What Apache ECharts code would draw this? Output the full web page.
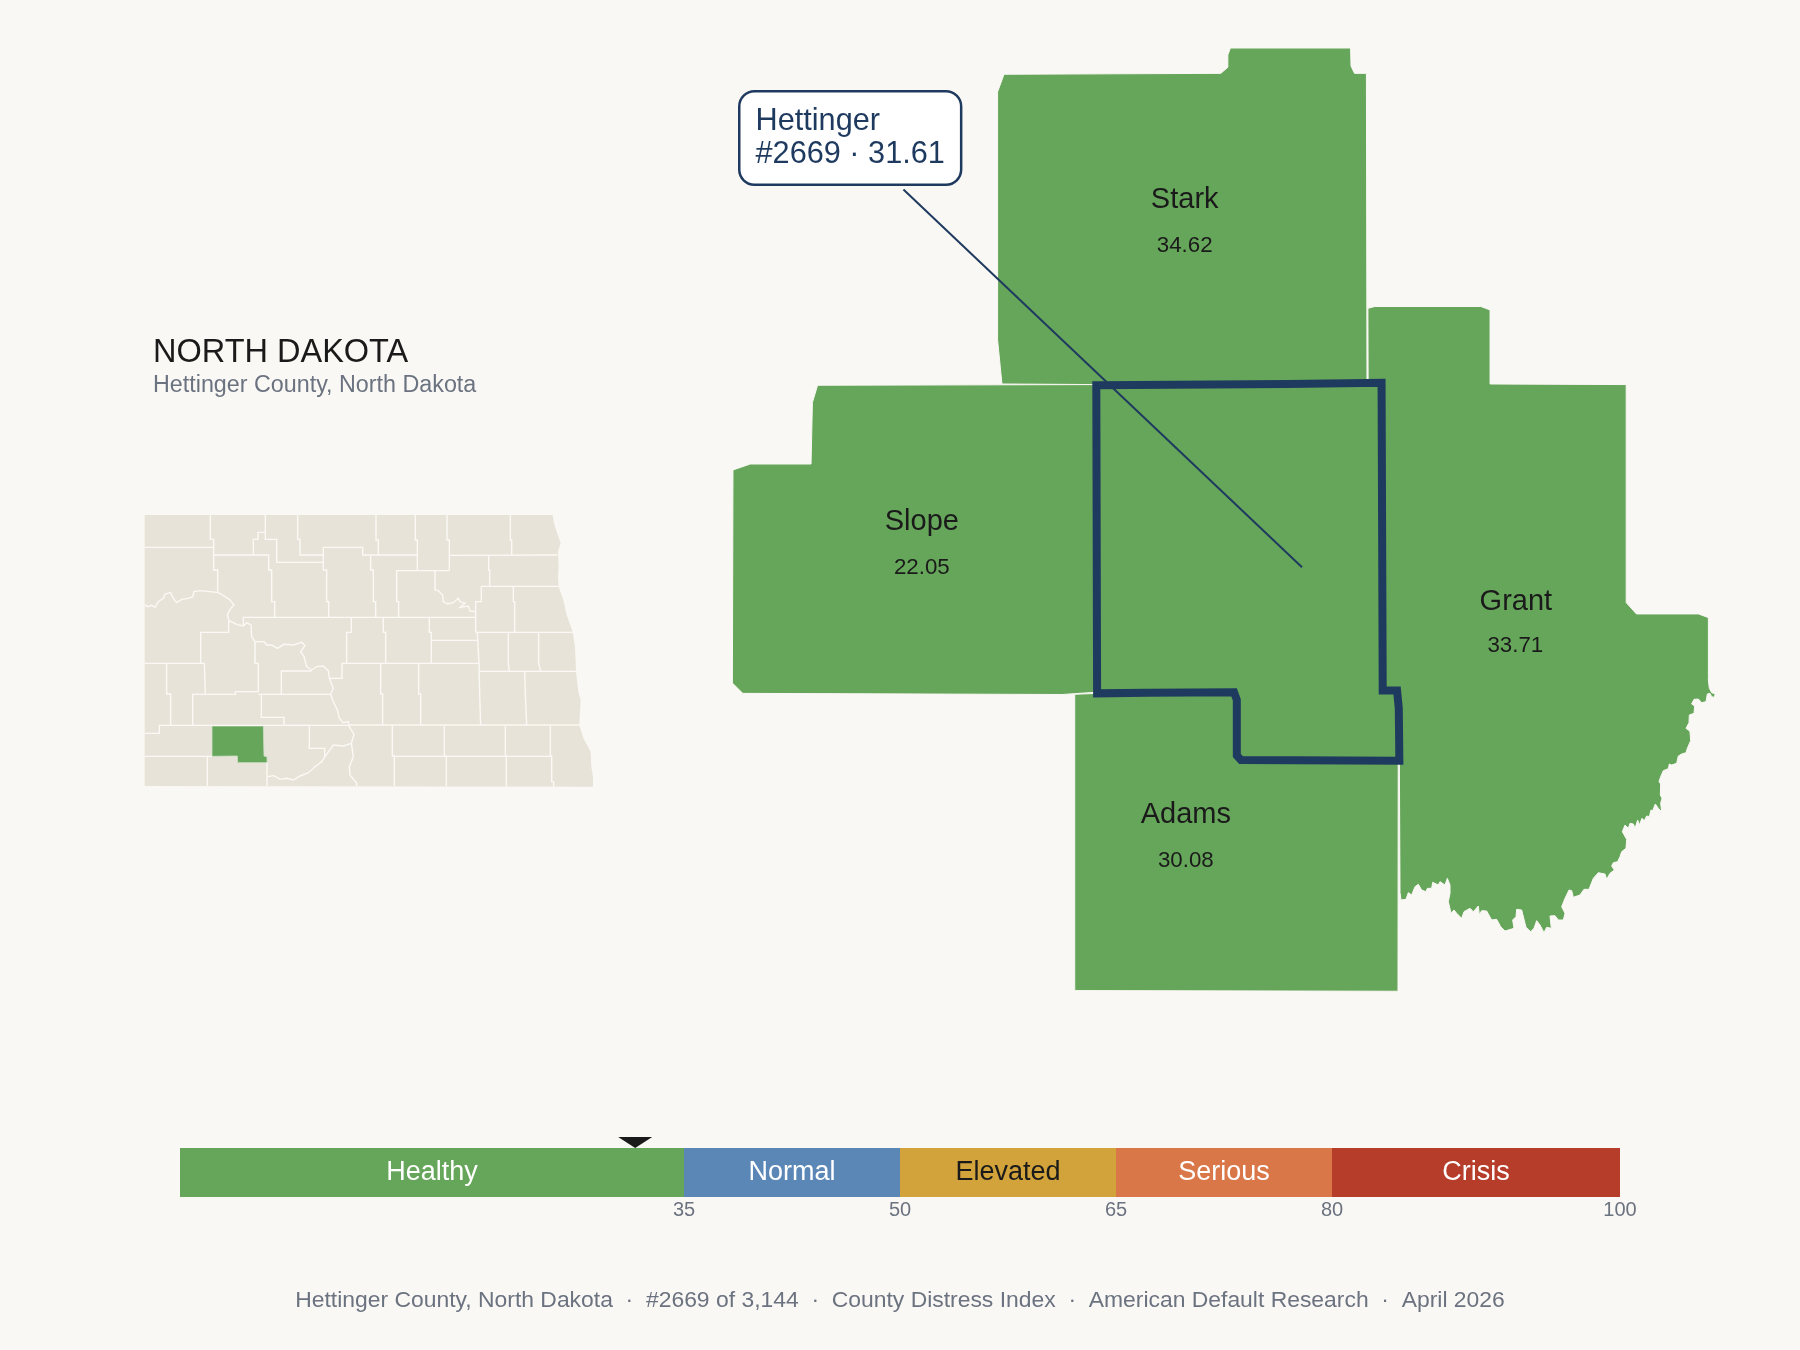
<!DOCTYPE html>
<html>
<head>
<meta charset="utf-8">
<style>html,body{margin:0;padding:0;background:#faf8f4}#c{width:1800px;height:1350px}</style>
<script src="https://cdn.jsdelivr.net/npm/echarts@6/dist/echarts.min.js"></script>
</head>
<body>
<div id="c"></div>
<script>
// ---- Score scale ----
const bandNames = ['Healthy', 'Normal', 'Elevated', 'Serious', 'Crisis'];
const bandSpans = [35, 15, 15, 15, 20];
const bandTicks = [35, 50, 65, 80, 100];
const countyScore = 31.61;

// ---- Neighbouring counties ----
const countyNames = ['Stark', 'Slope', 'Grant', 'Adams'];
const countyValues = ['34.62', '22.05', '33.71', '30.08'];
const nameAnchors = [[1032, 174], [803, 455], [1320.5, 524], [1033, 710]];
const valueAnchors = [[1032, 214], [803, 495], [1320, 563], [1033, 750]];

// ---- Callout ----
const calloutLines = ['Hettinger', '#2669 · 31.61'];
const calloutBoxAnchor = [645.5, 81];
const calloutLeader = [[787, 165], [1134.2, 494.2]];

// ---- Texts ----
const stateTitle = 'NORTH DAKOTA';
const stateSubtitle = 'Hettinger County, North Dakota';
const footerText = 'Hettinger County, North Dakota  ·  #2669 of 3,144  ·  County Distress Index  ·  American Default Research  ·  April 2026';

// ---- Main map outlines, in map units ----
const starkOutline = [[1071.8,41.8],[1176.5,41.8],[1176.9,57.5],[1179.9,63.9],[1190.3,63.9],[1190.8,334],[955,335],[872.8,334.5],[869,296],[869,80.1],[874.6,64.7],[1063.5,63.9],[1069.6,58.6],[1069.6,47.9]];
const slopeOutline = [[712.2,335.6],[955,335],[955,603],[925,605],[647,604],[638,595],[638.5,409.4],[653.6,404.2],[706.5,404.2],[707.7,350.7]];
const adamsOutline = [[936.2,604.8],[955.7,604],[1075,603],[1077.4,609.7],[1077.4,658],[1081,662],[1218,664],[1217.8,863.5],[936.2,862.9]];
const grantHead = [[1191.6,268.6],[1197.6,267],[1290,267],[1298,270],[1298,334.5],[1416.6,335],[1416.6,524.9],[1425.5,534.8],[1479.6,534.8],[1488.2,538],[1488.2,589.4]];
const grantTail = [[1219,663],[1218,617],[1217,601.6],[1204.6,601.6],[1204,334],[1191.8,333.5]];
// River bank traced at a larger scale: east reach, then south reach
const riverEastTrace = [[355,0],[358,25],[365,38],[376,42],[372,52],[365,50],[360,40],[352,42],[348,65],[335,68],[325,57],[312,58],[305,72],[314,78],[312,100],[298,105],[297,128],[288,145],[295,150],[300,155],[302,182],[292,205],[288,218],[275,222],[265,228],[260,250],[245,255],[238,252],[235,266],[220,272],[212,290],[207,305],[212,312],[211,345],[216,355],[212,370],[215,395],[205,385],[196,372],[188,392],[183,390],[178,410],[170,408],[163,422],[156,415],[148,435],[143,420],[135,445],[130,432],[120,430],[115,445],[105,435],[97,455],[110,478],[108,505],[95,515],[90,530],[83,545],[70,548],[65,558],[73,570]];
const riverSouthTrace = [[660,70],[650,88],[645,72],[625,68],[610,85],[597,118],[582,118],[570,135],[550,142],[545,122],[537,120],[525,145],[515,170],[525,190],[520,210],[505,210],[495,197],[480,198],[484,235],[470,232],[462,248],[450,225],[440,212],[432,235],[422,245],[408,232],[395,180],[380,178],[378,200],[368,210],[372,235],[345,243],[332,230],[320,208],[305,210],[290,183],[275,182],[268,195],[265,168],[250,185],[240,175],[222,185],[215,205],[200,190],[192,180],[183,190],[175,155],[180,130],[180,105],[172,85],[165,105],[150,95],[145,105],[128,97],[125,115],[112,115],[108,125],[95,120],[85,103],[75,110],[65,135],[55,128],[48,148],[33,150],[30,128]];
const hettingerOutline = [[955,335.5],[1122,334.5],[1203.5,333.5],[1204.5,601.6],[1217,601.6],[1218.5,617],[1219,662.6],[1081,662],[1077.4,658],[1077.4,609.7],[1075,603],[1000,603.5],[955.7,604]];

// ---- State inset, in inset map units ----
const stateOutline = [[44,45],[1268,45],[1272,70],[1280,95],[1292,130],[1284,155],[1286,200],[1284,230],[1286,260],[1300,300],[1310,345],[1328,395],[1335,440],[1338,515],[1345,575],[1352,600],[1348,675],[1360,715],[1382,755],[1384,800],[1389,830],[1389,860],[44,858]];
const insetHettinger = [[246,678],[400,678],[402,768],[411,770],[411,788],[323,788],[322,768],[246,769]];
const insetBorders = [
 [[241,45],[241,118],[251,118],[251,210],[263,210],[263,275]],
 [[44,142],[251,142]],
 [[251,165],[370,165],[370,118],[384,118],[384,97],[406,97],[406,45]],
 [[406,97],[406,118],[440,118],[440,187],[580,187]],
 [[370,165],[416,165],[416,210],[425,210],[425,305],[434,305],[434,352]],
 [[503,45],[503,118],[510,118],[510,165],[580,165]],
 [[580,142],[580,210],[590,210],[590,305],[596,305],[596,352]],
 [[580,142],[698,142],[698,165],[862,165]],
 [[738,45],[738,120],[745,120],[745,165]],
 [[722,165],[722,210],[730,210],[730,305],[737,305],[737,352]],
 [[856,45],[856,120],[862,120],[862,212]],
 [[800,305],[800,212],[958,212]],
 [[800,305],[806,305],[806,352]],
 [[915,212],[915,270],[925,272],[938,285],[940,305],[952,312],[970,308],[985,295],[990,305],[1005,310],[990,322],[1015,318],[1020,333],[1036,335]],
 [[951,45],[951,120],[958,120],[958,212]],
 [[958,166],[1283,165]],
 [[1141,45],[1141,120],[1145,120],[1145,165]],
 [[1076,167],[1076,210],[1079,210],[1079,258]],
 [[1054,259],[1286,259]],
 [[1054,259],[1054,305],[1037,305],[1037,397]],
 [[1150,259],[1150,305],[1154,305],[1154,397]],
 [[1037,397],[1328,397]],
 [[340,378],[340,352],[1037,352]],
 [[44,315],[55,320],[65,316],[75,322],[85,305],[100,295],[105,282],[122,278],[128,292],[140,308],[155,298],[175,295],[188,290],[192,275],[210,272],[240,275],[265,278],[285,290],[300,300],[312,315],[300,328],[292,345],[297,362],[320,373],[340,378],[350,368],[363,375],[365,410],[375,425],[402,425],[410,435],[425,435],[442,445],[462,433],[490,435],[515,427],[525,437],[512,455],[522,470],[530,500],[545,510],[560,500],[580,498],[595,512],[598,535],[610,565],[602,583],[610,605],[622,630],[628,655],[640,668],[655,665],[658,680],[672,703],[664,730],[640,738],[610,735],[585,770],[575,785],[555,800],[535,818],[510,828],[490,840],[470,835],[450,838],[432,827],[412,830]],
 [[296,362],[296,397],[212,397],[212,490]],
 [[44,490],[223,490],[226,582]],
 [[110,490],[110,582],[122,582],[122,675]],
 [[188,675],[188,583],[316,583],[316,575],[385,575],[385,490],[375,490],[375,425]],
 [[385,583],[602,583]],
 [[454,583],[454,513],[545,513]],
 [[394,583],[394,652],[401,652]],
 [[394,652],[462,652],[462,676],[538,676],[538,745],[584,745],[584,770]],
 [[44,700],[88,700],[88,676],[660,676]],
 [[44,769],[246,769]],
 [[232,769],[232,858]],
 [[411,788],[411,858]],
 [[664,352],[664,397],[650,397],[650,490]],
 [[600,535],[636,535],[636,490],[1047,490]],
 [[760,352],[760,397],[767,397],[767,490]],
 [[898,352],[898,397],[904,397],[904,490]],
 [[904,421],[1042,421]],
 [[1042,397],[1047,490],[1049,582],[1052,675]],
 [[1135,397],[1135,490],[1138,514]],
 [[1226,397],[1226,490],[1232,514]],
 [[1047,514],[1338,514]],
 [[1184,514],[1186,582],[1190,675]],
 [[752,490],[752,582],[758,582],[758,675]],
 [[866,490],[866,582],[872,582],[872,675]],
 [[660,675],[1350,675]],
 [[787,675],[787,768],[793,768],[793,858]],
 [[943,677],[943,768],[949,768],[949,858]],
 [[1126,677],[1126,768],[1129,768],[1129,860]],
 [[1261,677],[1261,768],[1265,768],[1265,845],[1271,845],[1271,860]],
 [[790,769],[1265,769]],
 [[664,730],[670,770],[658,800],[660,825],[680,850],[680,858]]
];

// ---- Colours ----
const BG = '#faf8f4', GREEN = '#66a65a', NAVY = '#1f3a5f', INK = '#1a1a1a', GREY = '#6b7280', SAND = '#e8e3d8';
const bandColors = [GREEN, '#5b87b7', '#d1a33a', '#d97749', '#b63d2a'];
const bandInk = ['#ffffff', '#ffffff', INK, '#ffffff', '#ffffff'];
const FONT = '"Liberation Sans", Arial, sans-serif';

const PAGE_SCALE = 1800 / 1568;
const traceToUnits = (ox, oy) => ([x, y]) => [(ox + x / 3) / PAGE_SCALE, (oy + y / 3) / PAGE_SCALE];
const grantOutline = [...grantHead, ...riverEastTrace.map(traceToUnits(1590, 680)), ...riverSouthTrace.map(traceToUnits(1390, 850)), ...grantTail];

function toGeo(regions) {
  return { type: 'FeatureCollection', features: regions.map(([name, ring]) => ({
    type: 'Feature', properties: { name }, geometry: { type: 'Polygon', coordinates: [ring.concat([ring[0]])] }
  })) };
}
function box(regions, scale, ox, oy) {
  let x0 = 1e9, y0 = 1e9, x1 = -1e9, y1 = -1e9;
  regions.forEach(([, r]) => r.forEach(([x, y]) => { x0 = Math.min(x0, x); x1 = Math.max(x1, x); y0 = Math.min(y0, y); y1 = Math.max(y1, y); }));
  return { left: ox + x0 * scale, top: oy + y0 * scale, width: (x1 - x0) * scale, height: (y1 - y0) * scale };
}
const mainRegions = [['Stark', starkOutline], ['Slope', slopeOutline], ['Adams', adamsOutline], ['Grant', grantOutline], ['Hettinger', hettingerOutline]];
const insetRegions = [['North Dakota', stateOutline], ['Hettinger', insetHettinger]];
echarts.registerMap('neighbors', toGeo(mainRegions));
echarts.registerMap('state', toGeo(insetRegions));
const identity = { project: p => p, unproject: p => p };

const chart = echarts.init(document.getElementById('c'), null, { renderer: 'canvas', width: 1800, height: 1350 });
const titleAt = (text, left, top, size, color) => ({ text, left, top, padding: 0, textStyle: { fontFamily: FONT, fontSize: size, fontWeight: 'normal', color } });
const hiddenMark = { color: 'transparent', opacity: 1 };

chart.setOption({
  backgroundColor: BG,
  animation: false,
  title: [
    titleAt(stateTitle, 153, 336.5, 32.5, INK),
    titleAt(stateSubtitle, 153, 374.5, 23.3, GREY),
    titleAt(footerText, 'center', 1289.5, 22.9, GREY)
  ],
  geo: [
    Object.assign({ map: 'neighbors', projection: identity, silent: true, roam: false, z: 2,
      label: { show: false },
      itemStyle: { areaColor: GREEN, borderColor: BG, borderWidth: 1 },
      regions: [{ name: 'Hettinger', itemStyle: { areaColor: GREEN, borderColor: NAVY, borderWidth: 8 } }]
    }, box(mainRegions, PAGE_SCALE, 0, 0)),
    Object.assign({ map: 'state', projection: identity, silent: true, roam: false, z: 2,
      label: { show: false },
      itemStyle: { areaColor: SAND, borderColor: SAND, borderWidth: 0 },
      regions: [{ name: 'Hettinger', itemStyle: { areaColor: GREEN, borderColor: '#cfe0c8', borderWidth: 0.8 } }]
    }, box(insetRegions, 1 / 3, 130, 500))
  ],
  grid: { left: 180, width: 1440, top: 1148, height: 49, containLabel: false },
  xAxis: { type: 'value', min: 0, max: 100, splitLine: { show: false }, axisLine: { show: false }, axisTick: { show: false },
    axisLabel: { customValues: bandTicks, color: GREY, fontFamily: FONT, fontSize: 20, margin: 3 } },
  yAxis: { type: 'category', data: ['Index'], show: false },
  series: [
    ...bandNames.map((name, i) => ({
      type: 'bar', name, stack: 'scale', barWidth: '100%', silent: true, data: [bandSpans[i]],
      itemStyle: { color: bandColors[i] },
      label: { show: true, position: 'inside', formatter: name, color: bandInk[i], fontFamily: FONT, fontSize: 27, offset: [0, 0] }
    })),
    { type: 'scatter', silent: true, data: [[countyScore, 'Index']], symbol: 'triangle', symbolRotate: 180, symbolSize: [34, 11], symbolOffset: [0, -30], itemStyle: { color: INK, opacity: 1 }, z: 5 },
    { type: 'lines', coordinateSystem: 'geo', geoIndex: 1, polyline: true, silent: true, z: 3,
      data: insetBorders.map(coords => ({ coords })), lineStyle: { color: '#fbf9f5', width: 1.4, opacity: 1 } },
    { type: 'lines', coordinateSystem: 'geo', geoIndex: 0, polyline: true, silent: true, z: 4,
      data: [{ coords: calloutLeader }], lineStyle: { color: NAVY, width: 2, opacity: 1 } },
    { type: 'scatter', coordinateSystem: 'geo', geoIndex: 0, silent: true, z: 5, symbolSize: 1, itemStyle: hiddenMark,
      data: nameAnchors.map((p, i) => ({ name: countyNames[i], value: p })),
      label: { show: true, position: 'inside', formatter: '{b}', color: INK, fontFamily: FONT, fontSize: 29 } },
    { type: 'scatter', coordinateSystem: 'geo', geoIndex: 0, silent: true, z: 5, symbolSize: 1, itemStyle: hiddenMark,
      data: valueAnchors.map((p, i) => ({ name: countyValues[i], value: p })),
      label: { show: true, position: 'inside', formatter: '{b}', color: INK, fontFamily: FONT, fontSize: 22.3 } },
    { type: 'scatter', coordinateSystem: 'geo', geoIndex: 0, silent: true, z: 6, symbolSize: 1, itemStyle: hiddenMark,
      data: [{ name: 'callout', value: calloutBoxAnchor }],
      label: { show: true, position: [0, 0], align: 'left', verticalAlign: 'top', formatter: calloutLines.join('\n'), color: NAVY, fontFamily: FONT, fontSize: 30.7, lineHeight: 33,
        backgroundColor: '#ffffff', borderColor: NAVY, borderWidth: 2.5, borderRadius: 14, padding: [13, 15, 12, 15] } }
  ]
});
</script>
</body>
</html>
